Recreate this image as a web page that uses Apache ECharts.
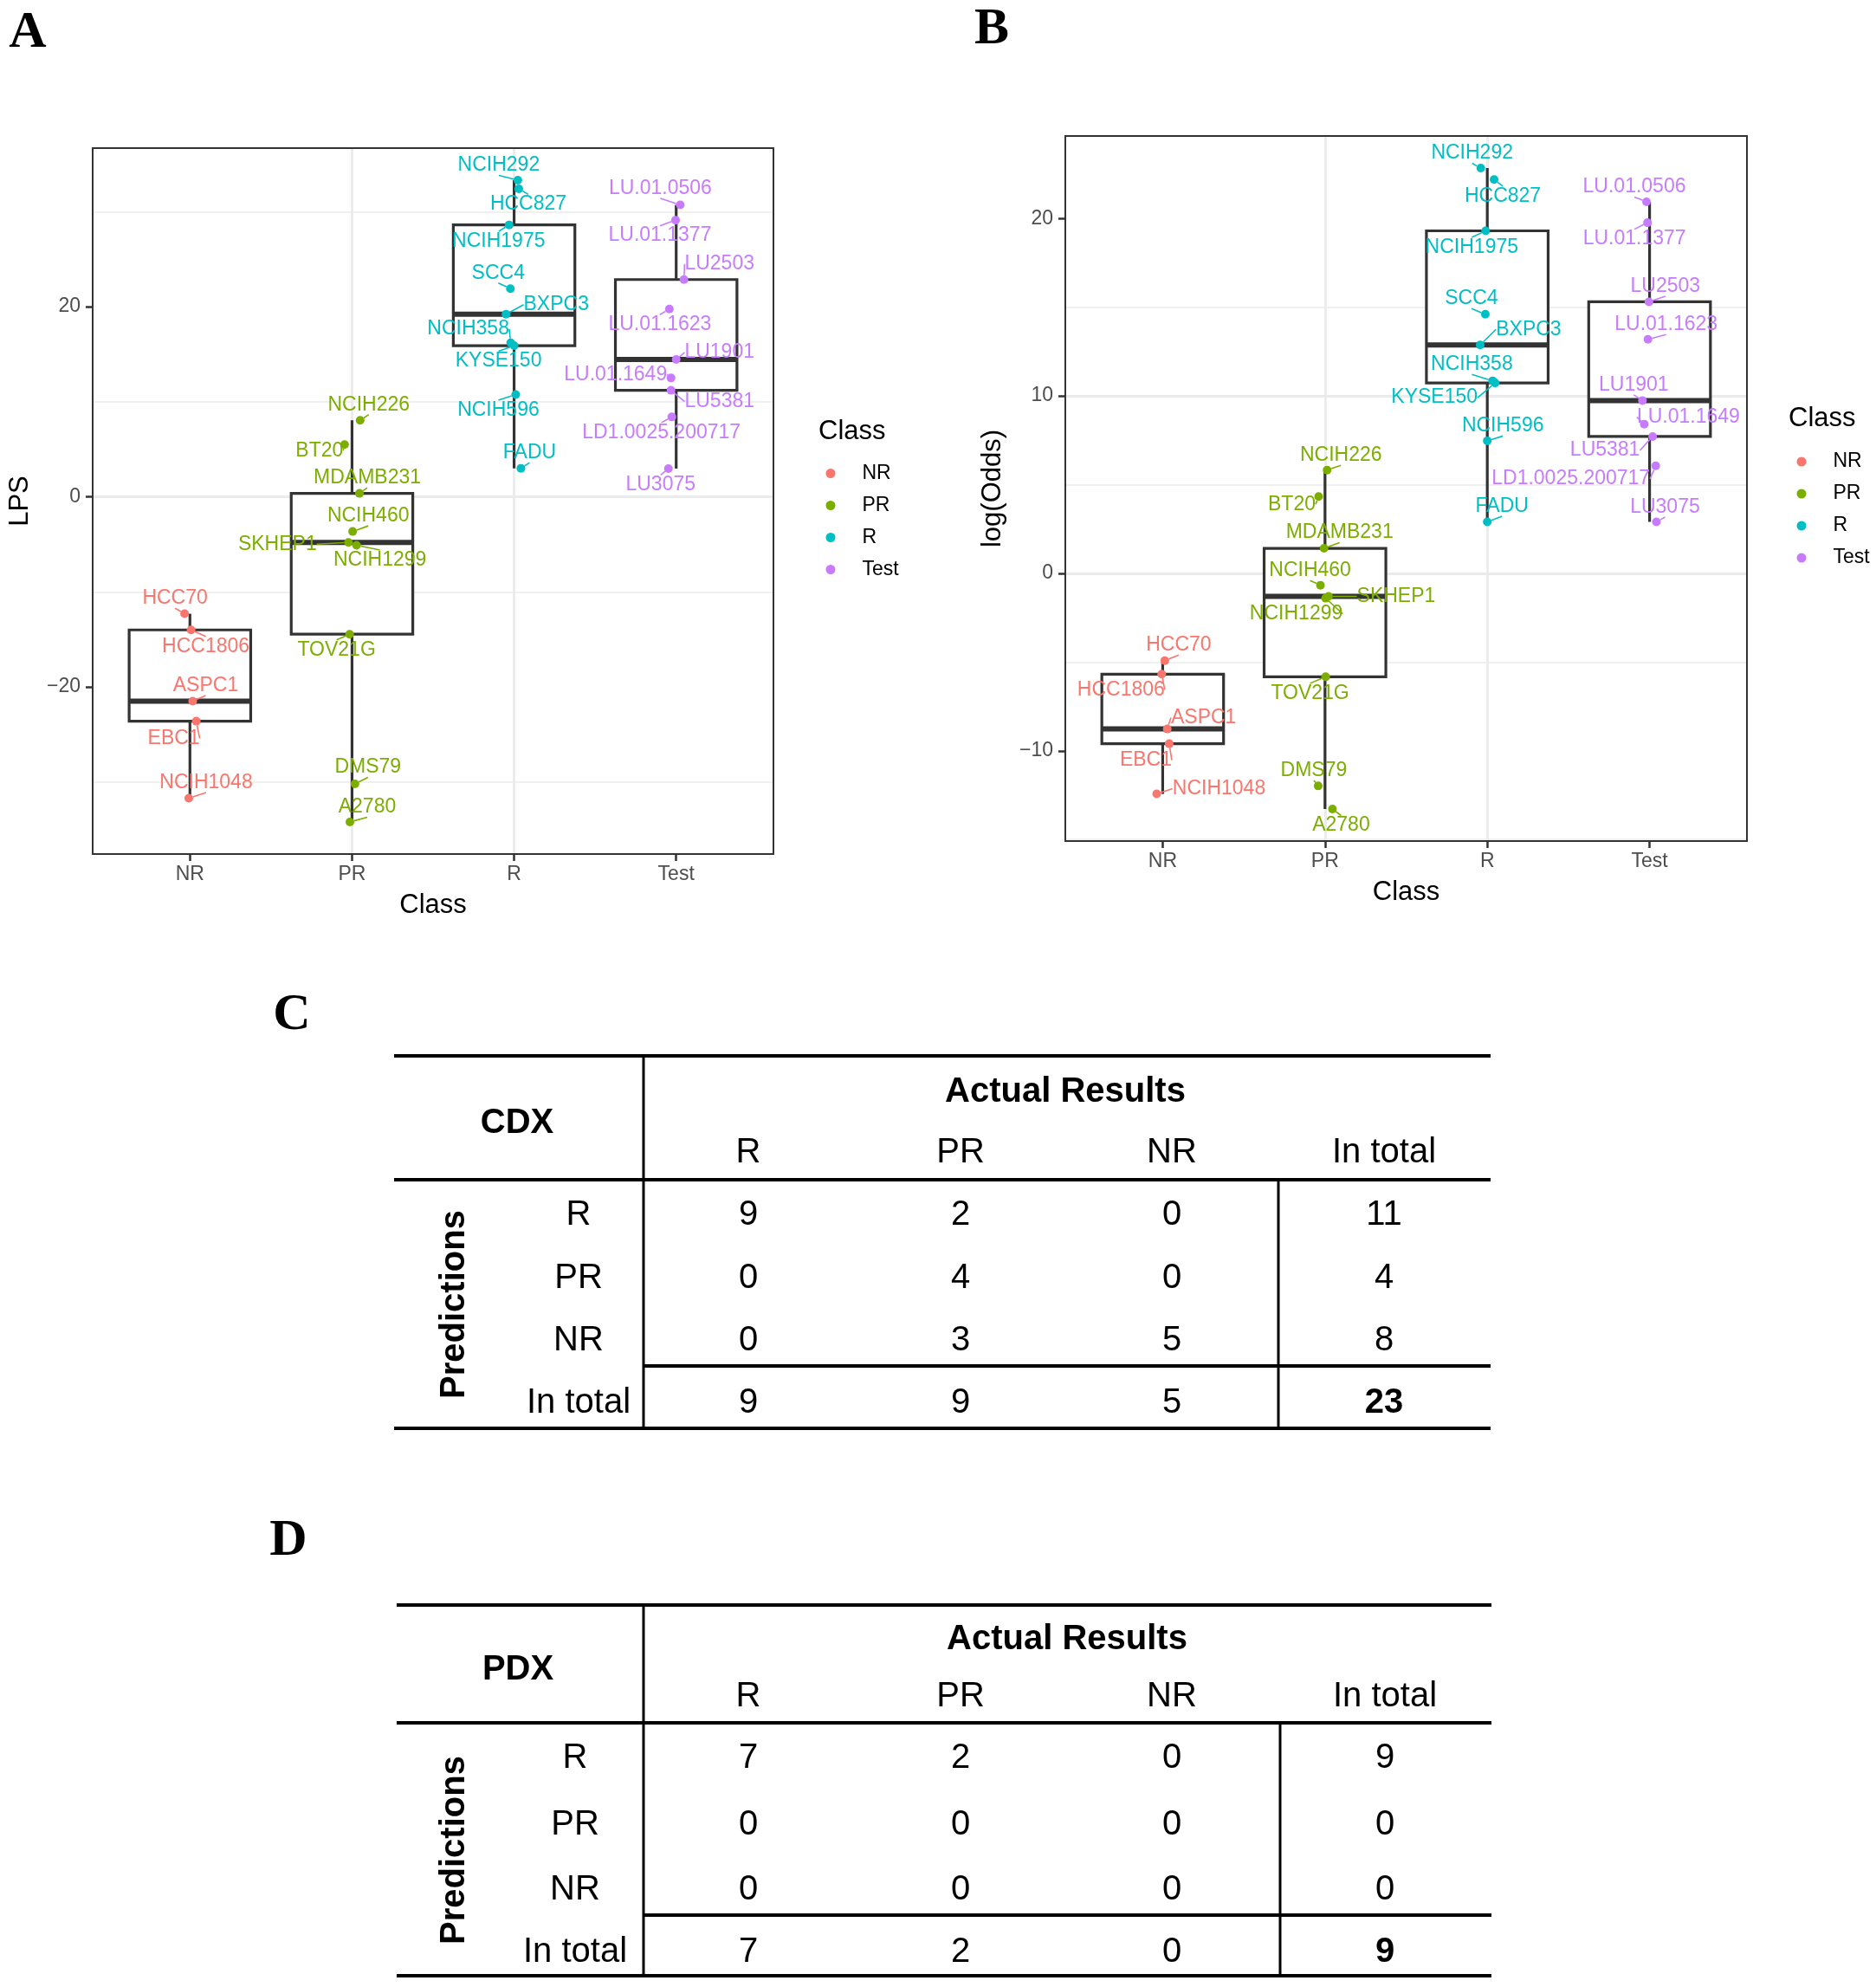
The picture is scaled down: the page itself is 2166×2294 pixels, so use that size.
<!DOCTYPE html>
<html>
<head>
<meta charset="utf-8">
<script src="https://cdn.jsdelivr.net/npm/echarts@6/dist/echarts.min.js"></script>
<style>
html,body{margin:0;padding:0;background:#ffffff;}
#c{width:2166px;height:2294px;}
</style>
</head>
<body>
<div id="c"></div>
<script>
// ---------------- data ----------------
const classes = ['NR', 'PR', 'R', 'Test'];
const classColors = ['#F8766D', '#7CAE00', '#00BFC4', '#C77CFF'];

const nrLines = ['HCC70', 'HCC1806', 'ASPC1', 'EBC1', 'NCIH1048'];
const prLines = ['NCIH226', 'BT20', 'MDAMB231', 'NCIH460', 'SKHEP1', 'NCIH1299', 'TOV21G', 'DMS79', 'A2780'];
const rLines = ['NCIH292', 'HCC827', 'NCIH1975', 'SCC4', 'BXPC3', 'NCIH358', 'KYSE150', 'NCIH596', 'FADU'];
const testLines = ['LU.01.0506', 'LU.01.1377', 'LU2503', 'LU.01.1623', 'LU1901', 'LU.01.1649', 'LU5381', 'LD1.0025.200717', 'LU3075'];

// Panel A : LPS
const lpsNR = [-12.3, -14.0, -21.5, -23.6, -31.7];
const lpsPR = [8.05, 5.5, 0.36, -3.65, -4.8, -5.1, -14.45, -30.2, -34.2];
const lpsR = [33.3, 32.4, 28.6, 21.9, 19.2, 16.2, 15.9, 10.75, 3.0];
const lpsTest = [30.7, 29.1, 22.85, 19.75, 14.45, 12.5, 11.2, 8.4, 2.97];
const lpsTicks = [-20, 0, 20];

// Panel B : log(Odds)
const oddsNR = [-4.92, -5.68, -8.77, -9.6, -12.43];
const oddsPR = [5.82, 4.33, 1.41, -0.67, -1.3, -1.4, -5.83, -11.98, -13.28];
const oddsR = [22.84, 22.19, 19.3, 14.6, 12.87, 10.85, 10.73, 7.47, 2.9];
const oddsTest = [20.94, 19.76, 15.3, 13.19, 9.74, 8.41, 7.71, 6.06, 2.9];
const oddsTicks = [-10, 0, 10, 20];

// horizontal jitter of the points (category units)
const jitA_NR = [-0.033, 0.007, 0.017, 0.039, -0.007];
const jitA_PR = [0.05, -0.046, 0.046, 0.004, -0.022, 0.028, -0.015, 0.018, -0.013];
const jitA_R = [0.023, 0.029, -0.031, -0.023, -0.05, -0.021, 0, 0.01, 0.042];
const jitA_Test = [0.025, -0.004, 0.048, -0.042, 0, -0.032, -0.032, -0.027, -0.048];
const jitB_NR = [0.013, -0.006, 0.028, 0.04, -0.037];
const jitB_PR = [0.013, -0.039, -0.006, -0.028, 0.022, 0.004, 0.004, -0.042, 0.046];
const jitB_R = [-0.04, 0.042, -0.01, -0.012, -0.044, 0.033, 0.048, 0, 0];
const jitB_Test = [-0.019, -0.013, -0.004, -0.01, -0.044, -0.033, 0.019, 0.038, 0.042];

// Tables
const tableColHeads = ['R', 'PR', 'NR', 'In total'];
const tableRowHeads = ['R', 'PR', 'NR', 'In total'];
const cdxCounts = [[9, 2, 0], [0, 4, 0], [0, 3, 5]];
const cdxRowTotals = [11, 4, 8];
const cdxColTotals = [9, 9, 5];
const cdxGrandTotal = 23;
const pdxCounts = [[7, 2, 0], [0, 0, 0], [0, 0, 0]];
const pdxRowTotals = [9, 0, 0];
const pdxColTotals = [7, 2, 0];
const pdxGrandTotal = 9;

// ---------------- layout / style ----------------
const fontSans = '"Liberation Sans", Arial, Helvetica, sans-serif';
const fontSerif = '"Liberation Serif", "Times New Roman", serif';

// repelled label offsets (px) from each point
const offA = [
  [[-11,-18],[17,19],[15,-18],[-26,20],[20,-18]],
  [[10,-18],[-29,7],[9,-18],[18,-18],[-82,2],[27,17],[-15,18],[15,-19],[20,-17]],
  [[-22,-17],[11,18],[-12,19],[-14,-18],[58,-11],[-49,-16],[-18,18],[-20,18],[10,-18]],
  [[-23,-19],[-18,18],[41,-18],[-11,18],[50,-8],[-64,-4],[56,13],[-12,18],[-9,19]]
];
const offB = [
  [[16,-18],[-47,18],[42,-13],[-27,19],[72,-6]],
  [[16,-17],[-31,9],[18,-18],[-12,-17],[78,0],[-34,18],[-18,19],[-5,-18],[10,19]],
  [[-10,-17],[10,19],[-16,19],[-16,-18],[56,-18],[-24,-19],[-70,17],[18,-17],[17,-18]],
  [[-14,-17],[-15,19],[19,-18],[21,-17],[-10,-18],[51,-8],[-55,16],[-98,15],[10,-17]]
];

const lineNames = [nrLines, prLines, rLines, testLines];
const panels = [
  { grid: {left: 107, top: 171, width: 786, height: 815}, vals: [lpsNR, lpsPR, lpsR, lpsTest],
    jit: [jitA_NR, jitA_PR, jitA_R, jitA_Test], off: offA, ticks: lpsTicks, yName: 'LPS',
    legend: {left: 953.5, top: 535}, legendTitle: [945, 498] },
  { grid: {left: 1230, top: 157, width: 787, height: 814}, vals: [oddsNR, oddsPR, oddsR, oddsTest],
    jit: [jitB_NR, jitB_PR, jitB_R, jitB_Test], off: offB, ticks: oddsTicks, yName: 'log(Odds)',
    legend: {left: 2074.5, top: 521.5}, legendTitle: [2065, 483] }
];

function quantile(s, p) {
  const h = (s.length - 1) * p, lo = Math.floor(h), hi = Math.ceil(h);
  return s[lo] + (h - lo) * (s[hi] - s[lo]);
}
function boxStats(vals) {
  const s = vals.slice().sort((a, b) => a - b);
  const q1 = quantile(s, 0.25), q2 = quantile(s, 0.5), q3 = quantile(s, 0.75);
  const iqr = q3 - q1;
  const lo = Math.min(...s.filter(v => v >= q1 - 1.5 * iqr));
  const hi = Math.max(...s.filter(v => v <= q3 + 1.5 * iqr));
  return [lo, q1, q2, q3, hi];
}
function fmtNum(v) { return v < 0 ? '\u2212' + Math.abs(v) : String(v); }

function renderBox(params, api) {
  const x = api.value(0);
  const lo = api.coord([x, api.value(1)]);
  const q1 = api.coord([x, api.value(2)]);
  const md = api.coord([x, api.value(3)]);
  const q3 = api.coord([x, api.value(4)]);
  const hi = api.coord([x, api.value(5)]);
  const half = api.size([0.75, 0])[0] / 2;
  const st = {stroke: '#333333', lineWidth: 3.2, fill: null};
  return {
    type: 'group',
    children: [
      {type: 'line', shape: {x1: lo[0], y1: lo[1], x2: q1[0], y2: q1[1]}, style: st},
      {type: 'line', shape: {x1: q3[0], y1: q3[1], x2: hi[0], y2: hi[1]}, style: st},
      {type: 'rect', shape: {x: q1[0] - half, y: q3[1], width: 2 * half, height: q1[1] - q3[1]},
        style: {fill: '#ffffff', stroke: '#333333', lineWidth: 3.2}},
      {type: 'line', shape: {x1: md[0] - half, y1: md[1], x2: md[0] + half, y2: md[1]},
        style: {stroke: '#333333', lineWidth: 6}}
    ]
  };
}

const grids = [], xAxes = [], yAxes = [], series = [], legends = [], graphics = [];

panels.forEach((P, p) => {
  grids.push(P.grid);
  const all = [].concat(...P.vals);
  const dmin = Math.min(...all), dmax = Math.max(...all), pad = 0.05 * (dmax - dmin);
  const ymin = dmin - pad, ymax = dmax + pad;
  const xmin = 0.4, xmax = 4.6;
  const catVals = classes.map((c, i) => i + 1);
  xAxes.push({
    gridIndex: p, type: 'value', position: 'bottom', min: xmin, max: xmax, splitNumber: 4,
    axisLine: {show: true, onZero: false, lineStyle: {color: '#333333', width: 2}},
    axisTick: {show: true, customValues: catVals, length: 8, lineStyle: {color: '#333333', width: 2.5}},
    axisLabel: {customValues: catVals, formatter: v => (Number.isInteger(v) && v >= 1 && v <= 4) ? classes[v - 1] : '',
      margin: 12, fontSize: 23, color: '#4D4D4D', fontFamily: fontSans},
    splitLine: {show: true, showMinLine: false, showMaxLine: false, lineStyle: {color: '#EBEBEB', width: 2.8}},
    name: 'Class', nameLocation: 'middle', nameGap: 44,
    nameTextStyle: {fontSize: 31, color: '#000000', fontFamily: fontSans}
  });
  xAxes.push({
    gridIndex: p, type: 'value', position: 'top', min: xmin, max: xmax, z: 10,
    axisLine: {show: true, onZero: false, lineStyle: {color: '#333333', width: 2}},
    axisTick: {show: false}, axisLabel: {show: false}, splitLine: {show: false}
  });
  yAxes.push({
    gridIndex: p, type: 'value', position: 'left', min: ymin, max: ymax, splitNumber: 4,
    axisLine: {show: true, onZero: false, lineStyle: {color: '#333333', width: 2}},
    axisTick: {show: true, customValues: P.ticks, length: 8, lineStyle: {color: '#333333', width: 2.5}},
    axisLabel: {customValues: P.ticks, formatter: v => P.ticks.includes(v) ? fmtNum(v) : '',
      margin: 14, fontSize: 23, color: '#4D4D4D', fontFamily: fontSans},
    splitLine: {show: true, showMinLine: false, showMaxLine: false, lineStyle: {color: '#EBEBEB', width: 2.8}},
    minorTick: {show: false, splitNumber: 2},
    minorSplitLine: {show: true, lineStyle: {color: '#EBEBEB', width: 1.6}},
    name: P.yName, nameLocation: 'middle', nameGap: 68, nameRotate: 90,
    nameTextStyle: {fontSize: 31, color: '#000000', fontFamily: fontSans}
  });
  yAxes.push({
    gridIndex: p, type: 'value', position: 'right', min: ymin, max: ymax, z: 10,
    axisLine: {show: true, onZero: false, lineStyle: {color: '#333333', width: 2}},
    axisTick: {show: false}, axisLabel: {show: false}, splitLine: {show: false}
  });

  // box plots
  series.push({
    type: 'custom', name: 'box' + p, xAxisIndex: p * 2, yAxisIndex: p * 2, z: 3,
    renderItem: renderBox, silent: true,
    encode: {x: 0, y: [1, 2, 3, 4, 5]},
    data: P.vals.map((v, k) => [k + 1].concat(boxStats(v)))
  });
  // points with labels
  classes.forEach((c, k) => {
    const off = P.off[k];
    series.push({
      type: 'scatter', name: c, xAxisIndex: p * 2, yAxisIndex: p * 2, z: 5,
      symbol: 'circle', symbolSize: 10,
      itemStyle: {color: classColors[k], opacity: 1},
      data: lineNames[k].map((n, i) => ({name: n, value: [k + 1 + P.jit[k][i], P.vals[k][i]]})),
      label: {show: true, position: 'inside', formatter: '{b}', color: classColors[k],
        fontSize: 23, fontFamily: fontSans},
      labelLine: {show: true, lineStyle: {color: classColors[k], width: 1.6}},
      labelLayout: prm => ({dx: off[prm.dataIndex][0], dy: off[prm.dataIndex][1]}),
      emphasis: {disabled: true}
    });
  });
  legends.push({
    orient: 'vertical', left: P.legend.left, top: P.legend.top, padding: 0, itemGap: 14,
    itemWidth: 11, itemHeight: 11, icon: 'circle', selectedMode: false,
    data: classes,
    textStyle: {fontSize: 23, lineHeight: 23, color: '#000000', fontFamily: fontSans, padding: [0, 0, 0, 26]}
  });
  graphics.push({type: 'text', x: P.legendTitle[0], y: P.legendTitle[1], z: 20,
    style: {text: 'Class', font: '31px ' + fontSans, fill: '#000', align: 'left', verticalAlign: 'middle'}});
});

// panel letters
[['A', 32, 38], ['B', 1145, 34], ['C', 337, 1172], ['D', 333, 1779]].forEach(l => {
  graphics.push({type: 'text', x: l[1], y: l[2], z: 20,
    style: {text: l[0], font: 'bold 60px ' + fontSerif, fill: '#000', align: 'center', verticalAlign: 'middle'}});
});

// tables
function addTable(T) {
  const L = T.lay;
  const txt = (s, x, y, bold) => graphics.push({type: 'text', x: x, y: y, z: 20,
    style: {text: String(s), font: (bold ? 'bold ' : '') + '40px ' + fontSans, fill: '#000', align: 'center', verticalAlign: 'middle'}});
  const ln = (x1, y1, x2, y2, w) => graphics.push({type: 'line', z: 20,
    shape: {x1: x1, y1: y1, x2: x2, y2: y2}, style: {stroke: '#000', lineWidth: w}});
  ln(L.left, L.top, L.right, L.top, 4);
  ln(L.left, L.headSep, L.right, L.headSep, 4);
  ln(L.v1, L.totSep, L.right, L.totSep, 4);
  ln(L.left, L.bottom, L.right, L.bottom, 4);
  ln(L.v1, L.top, L.v1, L.bottom, 3);
  ln(L.v2, L.headSep, L.v2, L.bottom, 3);
  txt('Actual Results', L.actualX, L.actualY, true);
  txt(T.title, L.cornerX, L.cornerY, true);
  tableColHeads.forEach((h, j) => txt(h, L.colXs[j], L.headY, false));
  tableRowHeads.forEach((h, i) => txt(h, L.rowLabelX, L.rowYs[i], false));
  T.counts.forEach((row, i) => row.forEach((v, j) => txt(v, L.colXs[j], L.rowYs[i], false)));
  T.rowTotals.forEach((v, i) => txt(v, L.colXs[3], L.rowYs[i], false));
  T.colTotals.forEach((v, j) => txt(v, L.colXs[j], L.rowYs[3], false));
  txt(T.grand, L.colXs[3], L.rowYs[3], true);
  graphics.push({type: 'text', x: L.predX, y: L.predY, rotation: Math.PI / 2, z: 20,
    style: {text: 'Predictions', font: 'bold 40px ' + fontSans, fill: '#000', align: 'center', verticalAlign: 'middle'}});
}
addTable({title: 'CDX', counts: cdxCounts, rowTotals: cdxRowTotals, colTotals: cdxColTotals, grand: cdxGrandTotal,
  lay: {top: 1219, headSep: 1362, totSep: 1577, bottom: 1649, left: 455, right: 1721, v1: 743, v2: 1476,
    actualX: 1230, actualY: 1261, cornerX: 597, cornerY: 1297, headY: 1331,
    rowYs: [1403, 1476, 1548, 1620], colXs: [864, 1109, 1353, 1598], rowLabelX: 668, predX: 525, predY: 1506}});
addTable({title: 'PDX', counts: pdxCounts, rowTotals: pdxRowTotals, colTotals: pdxColTotals, grand: pdxGrandTotal,
  lay: {top: 1853, headSep: 1989, totSep: 2211, bottom: 2281, left: 458, right: 1722, v1: 743, v2: 1478,
    actualX: 1232, actualY: 1893, cornerX: 598, cornerY: 1928, headY: 1959,
    rowYs: [2030, 2107, 2182, 2254], colXs: [864, 1109, 1353, 1599], rowLabelX: 664, predX: 525, predY: 2136}});

const chart = echarts.init(document.getElementById('c'), null, {renderer: 'canvas', width: 2166, height: 2294});
chart.setOption({
  animation: false,
  backgroundColor: '#ffffff',
  grid: grids,
  xAxis: xAxes,
  yAxis: yAxes,
  legend: legends,
  series: series,
  graphic: {elements: graphics}
});
</script>
</body>
</html>
